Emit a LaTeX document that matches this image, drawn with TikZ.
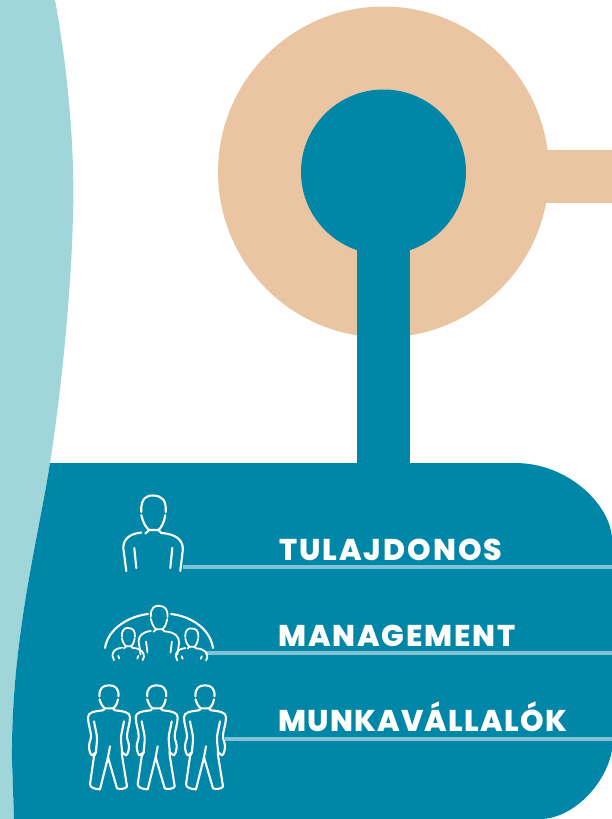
\documentclass[tikz,border=0pt]{standalone}
\usepackage{fontspec}
\newfontfamily\labelfont{Poppins ExtraBold}
\definecolor{tealdark}{HTML}{0087A7}
\definecolor{teallight}{HTML}{A0D5DA}
\definecolor{peach}{HTML}{E9C5A1}
\definecolor{rulecolor}{HTML}{7FC3D5}
\tikzset{
  outline/.style={draw=white,line width=2.1pt,line cap=round,line join=round},
  labeltext/.style={anchor=base west,inner sep=0pt,text=white,font=\labelfont\fontsize{30}{30}\selectfont\addfontfeature{LetterSpace=#1}},
  rulebar/.style={draw=rulecolor,line width=3.2pt},
  pics/bust/.style={code={
    \draw[outline] (-12,-18) .. controls (-13,-33) and (-5,-35) .. (0,-34.5) .. controls (9,-34) and (13,-30) .. (12.5,-18);
    \draw[outline] (-12,-15) .. controls (-10,-6) and (-6,-1) .. (-4,0) -- (5,0) .. controls (8,-2) and (11,-8) .. (12,-15);
    \draw[outline] (-4,0) -- (-8,3.5);
    \draw[outline] (-12,2.5) .. controls (-25,4) and (-30,10) .. (-30,18) -- (-27,#1);
    \draw[outline] (5,0) -- (8,3) .. controls (25,4) and (30,12) .. (29.5,20) -- (27,#1);
    \draw[outline] (-19,18) -- (-17,#1-3);
    \draw[outline] (19,18) -- (17,#1-3);
  }},
  pics/worker/.style={code={
    \draw[outline] (-9.5,-12) .. controls (-10,-20) and (-6,-23) .. (0,-23) .. controls (6,-23) and (10,-20) .. (9.5,-12);
    \draw[outline] (-9.5,-9) .. controls (-8,-4) and (-6,-1) .. (-4,0) -- (4,0) .. controls (6,-1) and (8,-4) .. (9,-9);
    \draw[outline] (-4,0) -- (-6,2) .. controls (-15,3) and (-21,4) .. (-21,9) .. controls (-21,16) and (-18,22) .. (-18,28) .. controls (-18,32) and (-20,34) .. (-20,38) .. controls (-20,43) and (-18,47) .. (-17,47) -- (-13,44);
    \draw[outline] (-15,13) .. controls (-14,20) and (-12,25) .. (-12,30) .. controls (-12,35) and (-13,40) .. (-13,44) -- (-15,48) -- (-19,76) .. controls (-19,80) and (-12,81) .. (-9,81) -- (-1,49) -- (8,80) .. controls (10,81) and (17,81) .. (18,78) -- (13,47) -- (13,44);
    \draw[outline] (1,38) -- (-1,49);
    \draw[outline] (4,0) -- (6,2) .. controls (15,3) and (21,4) .. (21,9) .. controls (21,16) and (18,22) .. (18,28) .. controls (18,32) and (20,34) .. (20,38) .. controls (20,43) and (18,47) .. (17,47) -- (13,44);
    \draw[outline] (15,13) .. controls (14,20) and (12,25) .. (12,30) .. controls (12,35) and (13,40) .. (13,44);
  }}
}
\begin{document}
\begin{tikzpicture}[x=1pt,y=-1pt]
\useasboundingbox (0,0) rectangle (612,819);
% wave on the left
\fill[teallight] (0,0) -- (55,0) .. controls (68,70) and (75,150) .. (73,215) .. controls (71,300) and (60,400) .. (50,463) .. controls (38,540) and (11,640) .. (12,760) -- (14,819) -- (0,819) -- cycle;
% big circle
\fill[peach] (383.5,172) circle (165.5);
\fill[peach] (540,150) rectangle (612,203);
\fill[tealdark] (383.5,172) circle (82.5);
\fill[tealdark] (357,235) rectangle (410,470);
% lower panel
\fill[tealdark] (50,463) -- (515,463) .. controls (570,463) and (612,507) .. (612,540) -- (612,750) .. controls (606,785) and (572,819) .. (540,819) -- (14,819) -- (12,760) .. controls (11,640) and (38,540) .. (50,463) -- cycle;
% rules
\coordinate (ownerend) at (183,567);
\coordinate (managerend) at (205,653);
\coordinate (workerend) at (225,739);
\coordinate (ownerright) at (612,567);
\coordinate (managerright) at (612,653);
\coordinate (workerright) at (612,739);
\draw[rulebar] (ownerend) -- (ownerright);
\draw[rulebar] (managerend) -- (managerright);
\draw[rulebar] (workerend) -- (workerright);
% labels
\node[labeltext=6.6] (owner) at (279,560) {TULAJDONOS};
\node[labeltext=5.9] (manager) at (278,646) {MANAGEMENT};
\node[labeltext=4.2] (worker) at (278,731) {MUNKAVÁLLALÓK};
% people
\pic at (153.3,530) {bust=41};
\pic[scale=0.68,outline/.append style={line width=1.8pt}] at (159,629.3) {bust=37};
\pic[scale=0.53,outline/.append style={line width=1.8pt}] at (128.3,646.3) {bust=26};
\pic[scale=0.53,outline/.append style={line width=1.8pt}] at (191.7,646.7) {bust=26};
\draw[outline] (105,648) .. controls (108,628) and (130,616) .. (148,614);
\draw[outline] (171,614) .. controls (190,616) and (210,628) .. (213,648);
\foreach \x in {109,156.7,205} \pic at (\x,708.3) {worker};
\end{tikzpicture}
\end{document}
